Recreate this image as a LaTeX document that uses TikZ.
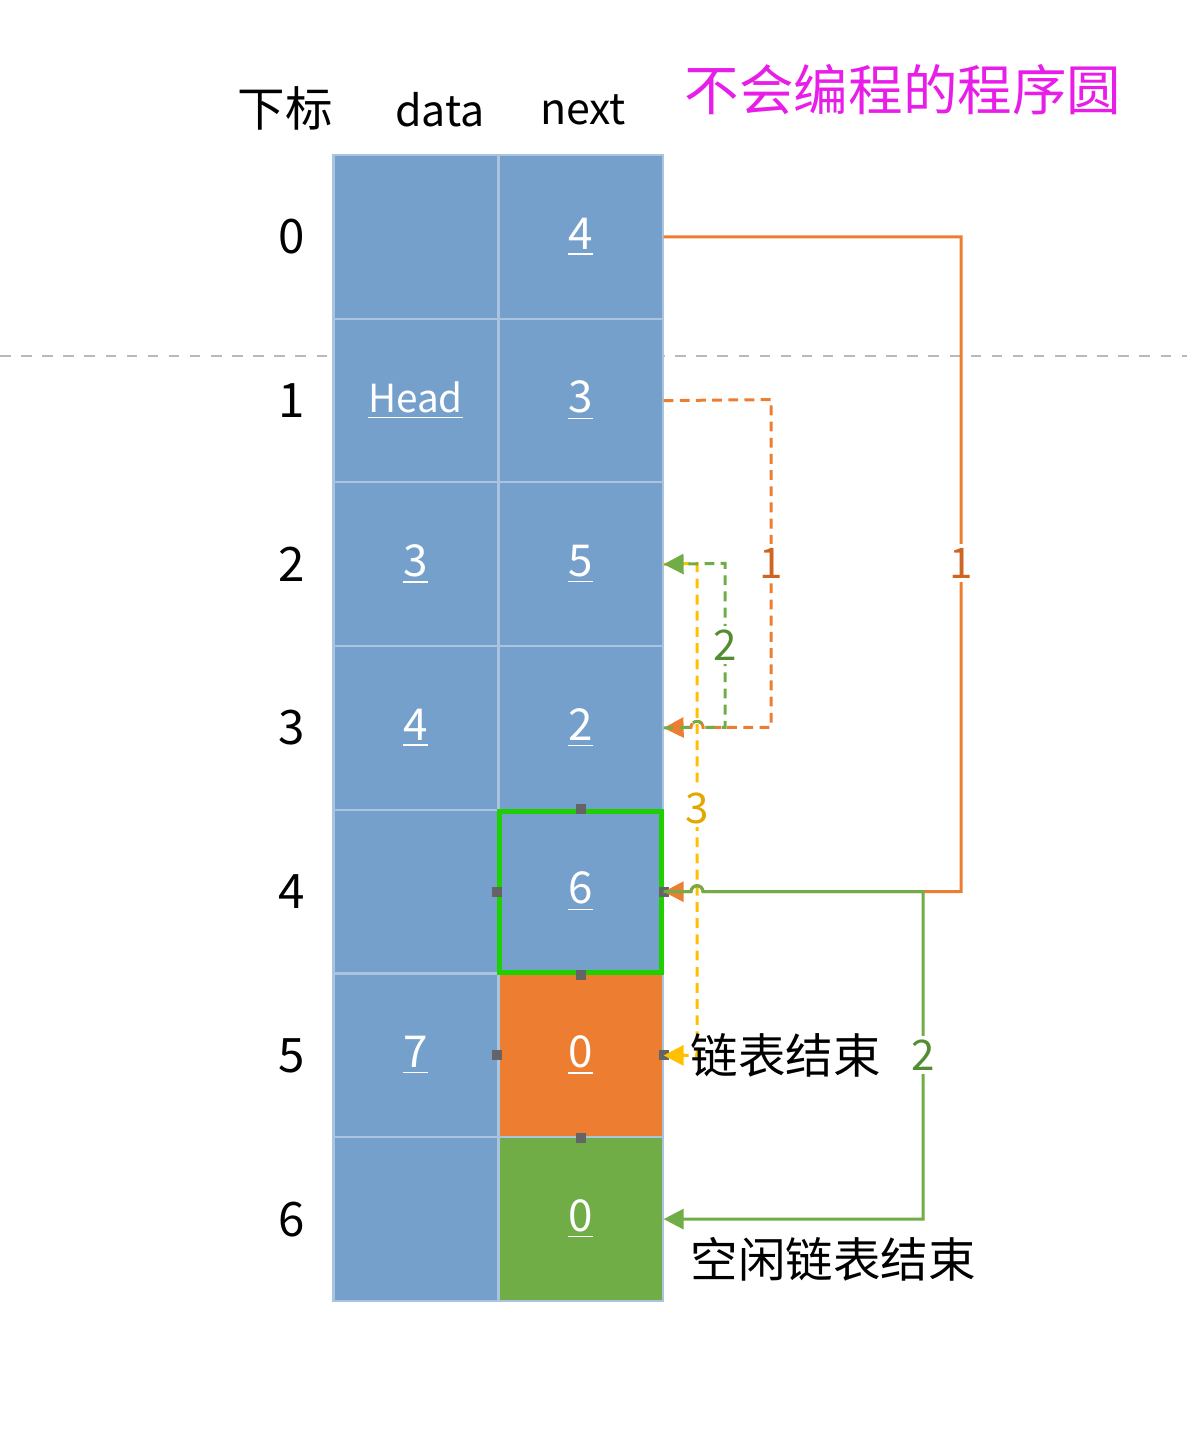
\documentclass[tikz,border=0pt]{standalone}
\usepackage{fontspec}
\setmainfont{Noto Sans CJK SC}
\usepackage{tikz}
\usetikzlibrary{arrows.meta,positioning,calc}
\definecolor{cellblue}{RGB}{117,160,204}
\definecolor{cellline}{RGB}{170,195,222}
\definecolor{cellorange}{RGB}{237,125,49}
\definecolor{cellgreen}{RGB}{112,173,71}
\definecolor{selgreen}{RGB}{30,208,0}
\definecolor{handlegray}{RGB}{100,100,100}
\definecolor{sepgray}{RGB}{185,185,185}
\definecolor{lineorange}{RGB}{237,125,49}
\definecolor{txtorange}{RGB}{204,102,34}
\definecolor{linegreen}{RGB}{112,173,71}
\definecolor{txtgreen}{RGB}{84,140,50}
\definecolor{lineyellow}{RGB}{255,192,0}
\definecolor{txtyellow}{RGB}{225,168,0}
\definecolor{titlepink}{RGB}{232,30,232}
\tikzset{
  cell/.style={draw=cellline,line width=0.6pt,fill=cellblue,text=white,
               minimum width=1.64cm,minimum height=1.637cm,inner sep=0pt,
               font=\fontsize{12.5}{14}\selectfont},
  idx/.style={font=\fontsize{13.5}{16}\selectfont},
  hdr/.style={font=\fontsize{13.5}{16}\selectfont},
  arr/.style={-{Triangle[length=2mm,width=2mm]},line width=0.85pt},
  dsh/.style={dash pattern=on 2.8pt off 1.8pt},
  lbl/.style={fill=white,inner sep=1pt,font=\fontsize{12}{14}\selectfont},
  handle/.style={fill=handlegray},
}

\begin{document}
\begin{tikzpicture}[x=0.01cm,y=-0.01cm]
\useasboundingbox (0,0) rectangle (1187,1452);
\draw[sepgray,dashed,line width=0.5pt] (0,356) -- (1187,356);

% headers
\node[hdr] (hidx) at (285,108) {下标};
\node[hdr,font=\fontsize{12.2}{16}\selectfont] (hdata) at (440,110) {data};
\node[hdr,font=\fontsize{12.2}{16}\selectfont] (hnext) at (583,110) {next};
\node[text=titlepink,font=\fontsize{15.5}{18}\selectfont] (title) at (903,90) {不会编程的程序圆};

% table
\foreach \i/\d/\n/\c in {0//4/cellblue,1//3/cellblue,2/3/5/cellblue,3/4/2/cellblue,
                         4//6/cellblue,5/7/0/cellorange,6//0/cellgreen}{
  \node[idx] (i\i) at (292,{236.9+163.7*\i}) {\i};
  \node[cell] (d\i) at (415.5,{236.9+163.7*\i}) {\underline{\d}};
  \node[cell,fill=\c] (n\i) at (580.5,{236.9+163.7*\i}) {\underline{\n}};
}
\node[text=white,font=\fontsize{11}{14}\selectfont] (head) at (d1) {\underline{Head}};
\draw[selgreen,line width=1.45pt] ($(n4.south west)+(2.5,-2.5)$) rectangle ($(n4.north east)+(-2.5,2.5)$);
\foreach \a in {north,south,east,west}
  \fill[handle] ($(n4.\a)+(-5,-5)$) rectangle +(10,10);
\foreach \a in {south,east,west}
  \fill[handle] ($(n5.\a)+(-5,-5)$) rectangle +(10,10);

% free list (dashed)
\draw[arr,dsh,lineyellow] (n2.east) -- (697,563.4) -- (697,1055.4) -- (n5.east);
\draw[arr,dsh,lineorange] (n1.east) -- (771,399.6) -- (771,727.3) -- (703,727.3)
  arc[start angle=0,end angle=180,radius=0.06cm] -- (n3.east);
\draw[arr,dsh,linegreen] (n3.east) -- (691,727.3)
  arc[start angle=180,end angle=0,radius=0.06cm] -- (725,727.3) -- (725,563.4) -- (n2.east);
\node[lbl,text=txtorange] (l1) at (771,563) {1};
\node[lbl,text=txtgreen] (l2) at (725,645) {2};
\node[lbl,text=txtyellow] (l3) at (697,808) {3};

% links (solid)
\draw[arr,lineorange] (n0.east) -- (961,236.9) -- (961,891.7) -- (703,891.7)
  arc[start angle=0,end angle=180,radius=0.06cm] -- (n4.east);
\draw[arr,linegreen] (n4.east) -- (691,891.7)
  arc[start angle=180,end angle=0,radius=0.06cm] -- (923,891.7) -- (923,1219) -- (n6.east);
\node[lbl,text=txtorange] (m1) at (961,563) {1};
\node[lbl,text=txtgreen] (m2) at (923,1055) {2};

\node[hdr,anchor=west,inner sep=0pt] (end1) at (690,1055) {链表结束};
\node[hdr,anchor=west,inner sep=0pt] (end2) at (690,1259) {空闲链表结束};
\end{tikzpicture}
\end{document}
